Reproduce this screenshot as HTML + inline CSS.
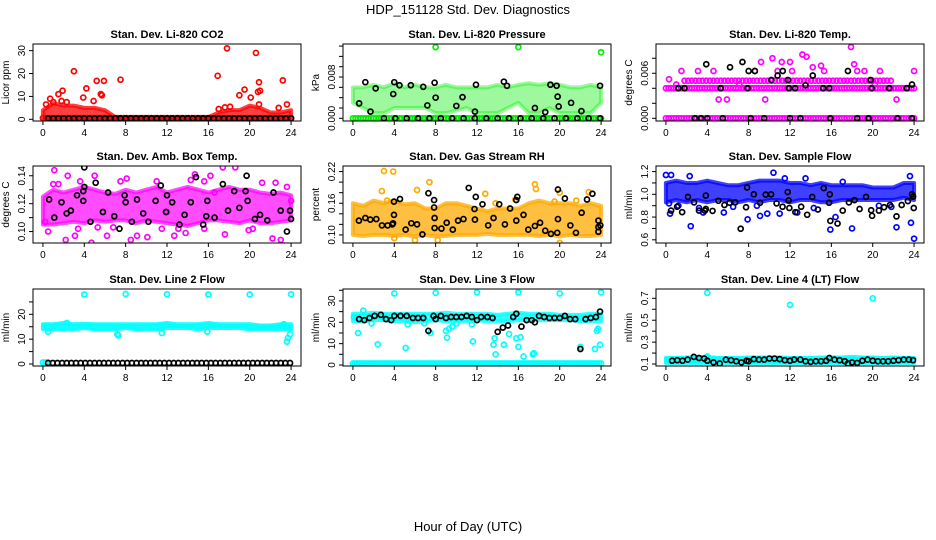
<!DOCTYPE html>
<html><head><meta charset="utf-8"><style>
html,body{margin:0;padding:0;background:#fff}
svg{display:block}
text{font-family:"Liberation Sans",Arial,sans-serif}
</style></head><body>
<svg id="chart" width="936" height="540" viewBox="0 0 936 540" xmlns="http://www.w3.org/2000/svg">
<rect width="936" height="540" fill="#fff"/>
<text x="468" y="14" font-size="13" text-anchor="middle">HDP_151128  Std. Dev. Diagnostics</text>
<text x="468" y="531" font-size="13" text-anchor="middle">Hour of Day (UTC)</text>
</svg>
<script>
// ---- shared x data ----
const xTicks = [0,4,8,12,16,20,24];
const bandHours = [0,1,2,3,4,5,6,7,8,9,10,11,12,13,14,15,16,17,18,19,20,21,22,23,24];
const blackHours = [0.6,1.1,1.6,2.1,2.7,3.2,3.7,4,4.6,5.2,5.8,6.3,6.8,7.3,7.8,8,8.5,9,9.5,10,10.5,11,11.5,12,12.4,13,13.5,14,14.5,15,15.5,15.8,16.3,16.8,17.3,17.6,18,18.5,19,19.5,20,20.5,21,21.5,22,22.5,23,23.5,23.9];

// ---- Panel 1: CO2 ----
const p1Ticks=[0,10,20,30], p1Labels=["0","10","20","30"];
const p1BandLo=[0,0,0,0,0,0,0,0,0,0,0,0,0,0,0,0,0,0,0,0,0,0,0,0,0];
const p1BandHi=[4,7,6,6,5,5,4,1,1,1,1,1,1,1,1,1,1,3,4,4,6,5,3,3,4];
const p1OutX=[0.3,0.7,1,1.5,1.8,1.9,2.3,3,3.9,4.2,4.9,5.2,5.6,5.7,5.9,7.5,16.9,17,17.6,17.8,18.1,19,19.5,20.1,20.6,20.8,20.9,21,20.9,23.2,23.6,22.8];
const p1OutY=[6.5,9,7.5,11,8,12.5,7.5,21,9.5,13.5,8,16.8,11,10.5,16.8,17.3,19,4.5,5.2,31,5.5,10.5,13,9.5,29,12,16.2,12.5,6.5,17,6.5,5];
const p1BlackRow=0.4;
// ---- Panel 2: Pressure ----
const p2Ticks=[0,0.002,0.004,0.006,0.008,0.010,0.012,0.014], p2Labels=["0.000","","","","0.008","","",""];
const p2BandLo=[0.003,0.002,0.001,0.001,0.002,0.002,0.002,0.002,0.001,0.001,0.0015,0.002,0.001,0.001,0.001,0.002,0.003,0.001,0.001,0.002,0.001,0.001,0.001,0.001,0.003];
const p2BandHi=[0.006,0.006,0.0065,0.006,0.0068,0.006,0.0065,0.006,0.006,0.0065,0.006,0.006,0.006,0.006,0.0065,0.006,0.0065,0.0068,0.0065,0.0068,0.0065,0.006,0.006,0.0065,0.006];
const p2OutX=[8,16,24], p2OutY=[0.0138,0.0138,0.0128];
const p2ZeroRow=0;
const p2BlackX=[1.2,2.2,0.6,1.7,4,3.9,4.5,5.6,6.8,7.9,8,7.2,10.6,10,11.9,11.8,14.6,14.9,17.6,18.6,19.1,19.7,19.8,19.9,21.1,22.1,23.9];
const p2BlackY=[0.0070,0.0058,0.0029,0.0013,0.0070,0.0047,0.0064,0.0064,0.0061,0.0069,0.0040,0.0025,0.0041,0.0024,0.0065,0.0013,0.0071,0.0063,0.0020,0.0012,0.0065,0.0063,0.0042,0.0023,0.0030,0.0014,0.0063];
// ---- Panel 3: Temp ----
const p3Ticks=[0,0.002,0.004,0.006,0.008], p3Labels=["0.000","","","0.006",""];
const p3Rows=[0,0.004,0.005];
const p3OutX=[0.3,1,1.5,3.1,4.6,5.1,5.9,7.1,8.6,9.2,9.6,10.3,10.8,11.2,12,12.2,13.2,13.6,14.2,15,15.3,17.9,18.2,18.5,19.2,20.2,20.7,22.3,24];
const p3OutY=[0.0052,0.0045,0.0063,0.0063,0.0063,0.0025,0.0025,0.0045,0.0063,0.0075,0.0025,0.0080,0.0063,0.0075,0.0075,0.0063,0.0085,0.0082,0.0068,0.0070,0.0063,0.0095,0.0072,0.0063,0.0063,0.0045,0.0063,0.0025,0.0063];
const p3BlackX=[3.9,6.2,7.4,8.0,8.6,10.2,10.8,11.3,11.8,13.5,14.2,17.6,19.8,23.8,1.2,1.8,5.3,7.9,11.9,12.5,15.2,15.8,19.9,21.6,23.3,2.8,3.4,4,5.5,8.2,9.5,12,13,15.9,18.5,19.6,22.4,23.8];
const p3BlackY=[0.0072,0.0068,0.0075,0.0063,0.0063,0.0051,0.0057,0.0063,0.0051,0.0044,0.0057,0.0063,0.0051,0.0045,0.004,0.004,0.004,0.004,0.004,0.004,0.004,0.004,0.004,0.004,0.004,0,0,0,0,0,0,0,0,0,0,0,0,0];
// ---- Panel 4: Amb box temp ----
const p4Ticks=[0.10,0.11,0.12,0.13,0.14], p4Labels=["0.10","","0.12","","0.14"];
const p4BandLo=[0.105,0.105,0.106,0.107,0.106,0.108,0.107,0.108,0.108,0.106,0.108,0.107,0.106,0.105,0.104,0.106,0.108,0.108,0.107,0.106,0.108,0.106,0.106,0.107,0.108];
const p4BandHi=[0.125,0.130,0.128,0.130,0.132,0.130,0.128,0.127,0.130,0.128,0.130,0.132,0.128,0.130,0.132,0.130,0.128,0.130,0.132,0.130,0.130,0.128,0.127,0.128,0.126];
const p4OutX=[0.2,0.5,1,1.1,1.5,2.2,2.4,3.1,3.4,3.6,4.7,5,5.3,5.2,6.2,6.8,7.5,8.1,8.5,9.1,10.1,11,11.5,12,12.7,13.1,13.8,14.3,14.7,15.6,15.6,16.2,16.6,17.4,17.6,18.6,19.9,20.3,21.2,22.2,22.5,23,23.3,23.6,24];
const p4OutY=[0.107,0.100,0.134,0.144,0.134,0.094,0.140,0.097,0.102,0.136,0.092,0.140,0.103,0.088,0.097,0.103,0.136,0.138,0.094,0.097,0.096,0.136,0.102,0.114,0.097,0.102,0.099,0.137,0.141,0.102,0.136,0.140,0.128,0.146,0.098,0.146,0.101,0.102,0.135,0.095,0.135,0.094,0.090,0.132,0.122];
const p4BlackX=[0.6,1.1,1.8,2.3,2.7,3.3,3.9,4,3.9,4,4.6,5.1,5.8,6.3,6.9,7.4,7.9,8,8.6,9.1,9.7,10.2,10.9,11.4,12,11.9,12.5,13.2,13.7,14.3,14.8,15.5,15.9,15.8,16.6,17.4,17.9,18.5,19,19.7,19.6,19.8,20.5,21,21.7,22.3,23,23.6,23.9,24];
const p4BlackY=[0.123,0.110,0.121,0.113,0.115,0.126,0.129,0.132,0.122,0.146,0.107,0.135,0.114,0.128,0.111,0.102,0.126,0.121,0.107,0.123,0.113,0.107,0.122,0.133,0.126,0.114,0.121,0.105,0.112,0.121,0.139,0.105,0.122,0.111,0.110,0.134,0.115,0.129,0.117,0.140,0.129,0.122,0.109,0.112,0.108,0.128,0.115,0.100,0.115,0.109];
// ---- Panel 5: Gas stream RH ----
const p5Ticks=[0.10,0.12,0.14,0.16,0.18,0.20,0.22], p5Labels=["0.10","","","0.16","","","0.22"];
const p5BandLo=[0.100,0.098,0.100,0.100,0.098,0.100,0.097,0.100,0.097,0.098,0.100,0.100,0.100,0.102,0.100,0.100,0.100,0.100,0.098,0.100,0.097,0.100,0.098,0.098,0.100];
const p5BandHi=[0.160,0.155,0.165,0.160,0.165,0.158,0.160,0.150,0.150,0.160,0.160,0.155,0.150,0.145,0.150,0.150,0.150,0.160,0.165,0.160,0.160,0.160,0.155,0.160,0.155];
const p5OutX=[3,3.9,2.8,3.3,6.2,7.4,12.8,13.8,15.7,17.6,17.7,19.5,20,21.6,22.8,20,8.2,6,4];
const p5OutY=[0.221,0.220,0.183,0.165,0.185,0.200,0.178,0.160,0.167,0.196,0.187,0.163,0.180,0.165,0.181,0.085,0.090,0.090,0.094];
const p5BlackX=[0.58,1.2,1.68,2.26,2.81,3.36,3.81,3.88,3.97,3.97,4.55,5.1,5.65,6.2,6.72,7.3,7.85,7.85,7.9,7.9,8.56,9.07,9.66,10.17,10.69,11.2,11.76,11.8,11.88,12.53,13.08,13.6,14.15,14.7,15.2,15.8,15.8,15.9,16.5,16.96,17.6,18.1,18.6,19.15,19.76,19.83,19.83,20.5,21.03,21.57,22.12,22.64,23.16,23.74,23.74,23.74,23.93];
const p5BlackY=[0.127,0.132,0.129,0.130,0.118,0.118,0.120,0.122,0.138,0.163,0.168,0.110,0.122,0.120,0.101,0.179,0.166,0.152,0.132,0.113,0.112,0.123,0.110,0.127,0.130,0.189,0.149,0.129,0.172,0.158,0.118,0.132,0.158,0.120,0.150,0.127,0.166,0.172,0.138,0.110,0.117,0.123,0.108,0.102,0.104,0.130,0.186,0.169,0.118,0.104,0.142,0.167,0.178,0.127,0.115,0.106,0.118];
// ---- Panel 6: Sample flow ----
const p6Ticks=[0.6,0.7,0.8,0.9,1.0,1.1,1.2], p6Labels=["0.6","","0.8","","1.0","","1.2"];
const p6BandLo=[0.93,0.95,0.93,0.95,0.93,0.95,0.95,0.93,0.95,0.93,0.95,0.95,0.93,0.95,0.95,0.93,0.93,0.95,0.95,0.95,0.95,0.95,0.95,0.97,0.95];
const p6BandHi=[1.10,1.12,1.10,1.10,1.12,1.10,1.08,1.08,1.10,1.12,1.12,1.12,1.10,1.10,1.08,1.10,1.08,1.08,1.08,1.08,1.06,1.06,1.06,1.10,1.10];
const p6OutX=[0,0.5,0.4,2.3,2.4,3.6,5.6,7.9,9.1,9.8,10.4,11,12.7,13.5,15.9,16.4,18,22.3,23.6,23.7,24,11.5,17.1,0.3,1.2,3.2,6.5,8.8,14.3,20.6,21.8];
const p6OutY=[1.17,1.17,0.83,1.16,0.72,0.84,0.84,0.78,0.81,0.83,1.19,0.83,0.84,1.14,0.69,0.80,0.70,0.71,1.16,0.75,0.61,1.14,1.11,0.92,0.90,0.88,0.89,0.90,0.88,0.90,0.89];
const p6BlackX=[0.5,1.08,1.57,2.13,2.72,3.2,3.76,3.86,3.86,4.51,5.07,5.66,6.15,6.7,7.23,7.75,7.85,8.5,9.1,9.65,10.17,10.7,11.28,11.78,11.87,11.94,12.52,13.08,13.66,14.15,14.7,15.26,15.78,15.85,15.9,16.6,17.1,17.7,18.24,18.73,19.35,19.85,19.94,20.6,21.1,21.67,22.3,22.8,23.4,23.8,23.9,23.97];
const p6BlackY=[0.857,0.891,0.843,0.977,0.929,0.857,0.857,0.871,0.989,0.854,0.943,0.906,0.926,0.929,0.697,0.886,1.06,1.0,0.926,0.997,1.0,0.92,0.891,1.02,0.946,0.88,0.843,0.891,0.82,0.977,0.866,1.054,0.926,1.0,0.766,0.743,0.857,0.929,0.949,0.871,0.977,0.86,0.811,0.857,0.886,0.906,0.806,0.906,0.94,1.0,0.98,0.88];
// ---- Panel 7: Line 2 flow ----
const p7Ticks=[0,5,10,15,20,25], p7Labels=["0","","10","","20",""];
const p7BandLo=[14,14,14,14,14.5,14,14,14,14.5,14,14,14,14.5,14.5,14.5,14,14.5,14.5,14.5,14.5,14,14,14,14,14];
const p7BandHi=[16,16,16.5,16,16.2,16,16,16,16,16,16,16,16.5,16,16,16,16.5,16,16,16,16,15.5,15.5,16,16];
const p7OutX=[0.5,4,7.3,7.2,8,11.5,12,16,15.9,20,24,23.6,23.7,23.9,2.3,23.3];
const p7OutY=[13,28,11.5,12,28.2,12.5,28.1,28,13,28,28.1,9,10.5,12,16.5,16];
const p7BlackRow=0.4;
// ---- Panel 8: Line 3 flow ----
const p8Ticks=[0,5,10,15,20,25,30,35], p8Labels=["0","","10","","20","","30",""];
const p8BandLo=[20.5,20.5,21,21,20.5,20.5,20,20.5,21,20.5,20.5,20.5,21,20.5,20.5,20.5,21,21,21,21,21,21,20.5,20.5,20.5];
const p8BandHi=[24,24,24.5,24,24,24,24,24,24,24.5,24,24,24,24,23.5,24,24.5,24,24,24,23.5,23.5,23.5,24,24];
const p8ZeroRow=0.7;
const p8OutX=[0.5,1,2.4,4,5.1,7.5,8,9,9.3,9.1,9.6,11.6,12,13.7,13.6,13.8,14.6,15.1,15.8,16,16.2,16,16.5,17.4,17.5,20,22,23.4,23.6,23.7,23.9,24,0.1,1.8,5.3,6.9,10,11.5];
const p8OutY=[15,25.5,9.7,33.5,8,15,33.8,16,17,12.8,18,11,34,12.5,9.5,5,9.5,14.5,12.5,8.5,13,34,4,5,5.5,33.5,8.5,7.5,16,17,9.5,34,22.5,19.5,19,19.5,19.5,19];
const p8BlackY=[21.5,21,22,23,23.5,21.5,21,23,23,23,22,22,22,16,23,21.5,23,22,22.5,22.5,22.5,23,22.5,21,22.5,22.5,22,15.5,17.5,18.5,22.5,24,18,21,21,20,23,22.5,22,22,22,23,21.5,21.5,7.5,21.5,22,22.5,25];
// ---- Panel 9: Line 4 flow ----
const p9Ticks=[0.1,0.2,0.3,0.4,0.5,0.6,0.7], p9Labels=["0.1","","0.3","","0.5","","0.7"];
const p9BandLo=[0.11,0.11,0.11,0.11,0.11,0.11,0.11,0.11,0.11,0.11,0.11,0.11,0.11,0.11,0.11,0.11,0.11,0.11,0.11,0.11,0.11,0.11,0.11,0.11,0.11];
const p9BandHi=[0.155,0.155,0.16,0.16,0.165,0.155,0.155,0.155,0.16,0.16,0.16,0.16,0.155,0.155,0.155,0.16,0.16,0.16,0.165,0.16,0.16,0.155,0.16,0.155,0.155];
const p9OutX=[4,12,20,4], p9OutY=[0.75,0.64,0.70,0.17];
const p9BlackY=[.13,.135,.13,.14,.165,.155,.15,.13,.115,.105,.14,.135,.125,.115,.13,.125,.145,.14,.14,.15,.15,.145,.135,.13,.14,.14,.125,.12,.125,.125,.13,.155,.14,.135,.125,.105,.115,.11,.13,.14,.13,.125,.125,.125,.13,.135,.14,.14,.135];

// ---- drawing ----
const svg=document.getElementById('chart');
const NS='http://www.w3.org/2000/svg';
const colL=[33,343,656], rowT=[44,166,289], W=268, H=77;
const XMIN=-0.96, XMAX=24.96;
function mk(tag,attrs,parent){const e=document.createElementNS(NS,tag);for(const k in attrs)e.setAttribute(k,attrs[k]);(parent||svg).appendChild(e);return e;}
function makePanel(ci,ri,title,ylab,ymin,ymax,ticks,labels,name){
  const L=colL[ci],T=rowT[ri];
  const g=mk('g',{});
  
  
  const sx=h=>L+(h-XMIN)/(XMAX-XMIN)*W;
  const sy=v=>T+H-(v-ymin)/(ymax-ymin)*H;
  const t=mk('text',{x:L+W/2,y:T-6,'font-size':11,'font-weight':'bold','text-anchor':'middle'},g);
  t.textContent=title;
  
  
  const yl=mk('text',{x:0,y:0,'font-size':10,'text-anchor':'middle',transform:`translate(${L-24},${T+H/2}) rotate(-90)`},g);
  yl.textContent=ylab;
  
  
  const xa=mk('g',{},g);
  
  
  mk('line',{x1:sx(0),x2:sx(24),y1:T+H,y2:T+H,stroke:'#000','stroke-width':1},xa);
  xTicks.forEach(v=>{mk('line',{x1:sx(v),x2:sx(v),y1:T+H,y2:T+H+4,stroke:'#000'},xa);
    const tl=mk('text',{x:sx(v),y:T+H+15,'font-size':10,'text-anchor':'middle'},xa);tl.textContent=v;});
  const ya=mk('g',{},g);
  
  
  mk('line',{x1:L,x2:L,y1:sy(ticks[0]),y2:sy(ticks[ticks.length-1]),stroke:'#000'},ya);
  ticks.forEach((v,i)=>{mk('line',{x1:L,x2:L-4,y1:sy(v),y2:sy(v),stroke:'#000'},ya);
    if(labels[i]){const tl=mk('text',{x:0,y:0,'font-size':10,'text-anchor':'middle',transform:`translate(${L-8},${sy(v)}) rotate(-90)`},ya);tl.textContent=labels[i];}});
  const clipId='c'+name;
  const cp=mk('clipPath',{id:clipId},g);mk('rect',{x:L,y:T,width:W,height:H},cp);
  const plot=mk('g',{'clip-path':`url(#${clipId})`},g);
  mk('rect',{x:L,y:T,width:W,height:H,fill:'none',stroke:'#000','stroke-width':1},g);
  return {g:plot,sx,sy,name};
}
function band(P,lo,hi,color,op){
  let d='M'+bandHours.map((h,i)=>P.sx(h)+','+P.sy(hi[i])).join('L');
  d+='L'+bandHours.slice().reverse().map((h,j)=>{const i=bandHours.length-1-j;return P.sx(h)+','+P.sy(lo[i]);}).join('L')+'Z';
  const p=mk('path',{d,fill:color,'fill-opacity':op,stroke:color,'stroke-width':4,'stroke-opacity':op,'stroke-linejoin':'round'},P.g);
  
  
}
function points(P,xs,ys,color,label){
  const g=mk('g',{},P.g);
  
  
  xs.forEach((x,i)=>{mk('circle',{cx:P.sx(x),cy:P.sy(ys[i]),r:2.5,fill:'none',stroke:color,'stroke-width':1.7},g);});
}
function row(P,val,from,to,step,color,label){
  const xs=[],ys=[];for(let h=from;h<=to+1e-9;h+=step){xs.push(h);ys.push(val);}
  points(P,xs,ys,color,label);
}
const RED='#ff0000',GRN='#00ee00',MAG='#ff00ff',BLU='#0000ff',CYN='#00ffff',BLK='#000',ORG='#ffaa00',YEL='#ffd800';

let P=makePanel(0,0,'Stan. Dev. Li-820 CO2','Licor ppm',-0.74,32.9,p1Ticks,p1Labels,'co2');
band(P,p1BandLo,p1BandHi,RED,0.75);row(P,0.5,0,24,0.3,RED,'red-baseline');
points(P,p1OutX,p1OutY,RED,'red-points');row(P,p1BlackRow,0.5,24,0.5,BLK,'black-points');

P=makePanel(1,0,'Stan. Dev. Li-820 Pressure','kPa',-0.00052,0.0144,p2Ticks,p2Labels,'pressure');
band(P,p2BandLo,p2BandHi,GRN,0.38);row(P,p2ZeroRow,0,24,0.25,GRN,'green-baseline');
points(P,p2OutX,p2OutY,GRN,'green-points');points(P,p2BlackX,p2BlackY,BLK,'black-points');
row(P,0,3,24,1.1,BLK,'black-baseline');

P=makePanel(2,0,'Stan. Dev. Li-820 Temp.','degrees C',-0.00036,0.0099,p3Ticks,p3Labels,'temp');
row(P,p3Rows[0],0,24,0.25,MAG,'magenta-row-0');row(P,p3Rows[1],0,24,0.25,MAG,'magenta-row-1');
row(P,p3Rows[2],1.8,21.8,0.35,MAG,'magenta-row-2');
points(P,p3OutX,p3OutY,MAG,'magenta-points');points(P,p3BlackX,p3BlackY,BLK,'black-points');

P=makePanel(0,1,'Stan. Dev. Amb. Box Temp.','degrees C',0.0918,0.147,p4Ticks,p4Labels,'ambbox');
band(P,p4BandLo,p4BandHi,MAG,0.7);
points(P,p4OutX,p4OutY,MAG,'magenta-points');points(P,p4BlackX,p4BlackY,BLK,'black-points');

P=makePanel(1,1,'Stan. Dev. Gas Stream RH','percent',0.0847,0.2305,p5Ticks,p5Labels,'rh');
band(P,p5BandLo,p5BandHi,ORG,0.75);
points(P,p5OutX,p5OutY,ORG,'orange-points');points(P,p5BlackX,p5BlackY,BLK,'black-points');

P=makePanel(2,1,'Stan. Dev. Sample Flow','ml/min',0.572,1.249,p6Ticks,p6Labels,'sampleflow');
band(P,p6BandLo,p6BandHi,BLU,0.75);
points(P,p6OutX,p6OutY,BLU,'blue-points');points(P,p6BlackX,p6BlackY,BLK,'black-points');

P=makePanel(0,2,'Stan. Dev. Line 2 Flow','ml/min',-0.8,30.2,p7Ticks,p7Labels,'line2');
band(P,p7BandLo,p7BandHi,CYN,0.9);row(P,0.6,0,0.5,0.25,CYN,'cyan-baseline');
points(P,p7OutX,p7OutY,CYN,'cyan-points');row(P,p7BlackRow,0.5,24,0.45,BLK,'black-points');

P=makePanel(1,2,'Stan. Dev. Line 3 Flow','ml/min',-0.47,35.6,p8Ticks,p8Labels,'line3');
band(P,p8BandLo,p8BandHi,CYN,0.8);row(P,p8ZeroRow,0,24,0.2,CYN,'cyan-baseline');
points(P,p8OutX,p8OutY,CYN,'cyan-points');points(P,blackHours,p8BlackY,BLK,'black-points');

P=makePanel(2,2,'Stan. Dev. Line 4 (LT) Flow','ml/min',0.082,0.785,p9Ticks,p9Labels,'line4');
band(P,p9BandLo,p9BandHi,CYN,0.9);
points(P,p9OutX,p9OutY,CYN,'cyan-points');points(P,blackHours,p9BlackY,BLK,'black-points');
</script>
</body></html>
